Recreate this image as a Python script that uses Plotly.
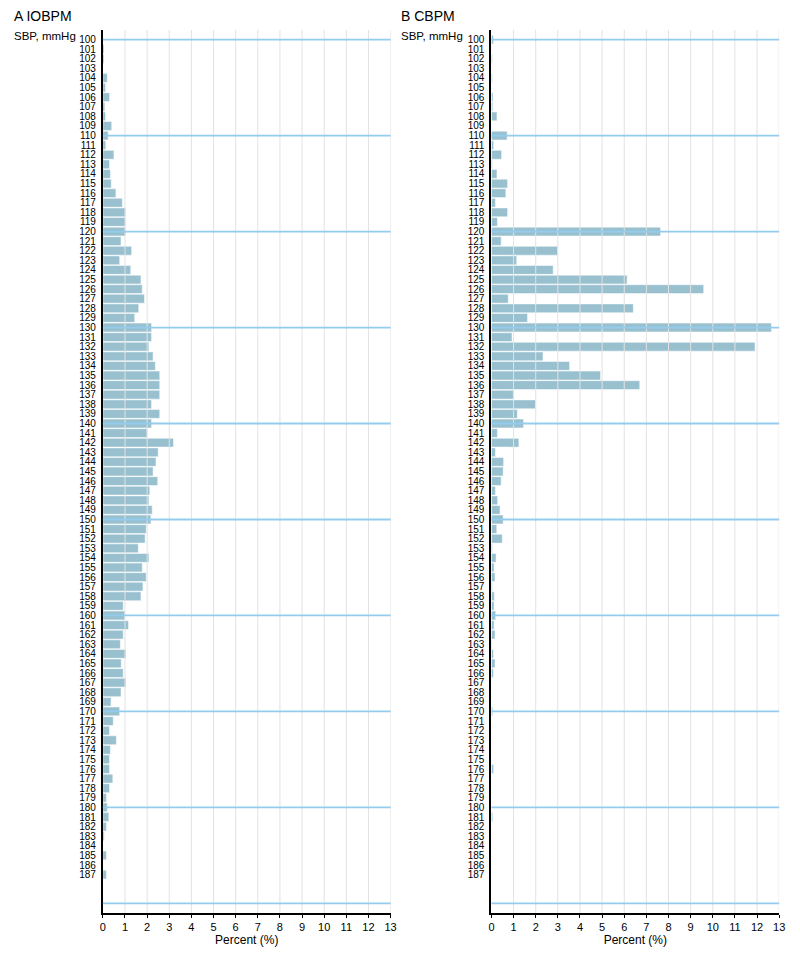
import plotly.graph_objects as go

sbp = list(range(100, 188))

iobpm = [0.0, 0.05, 0.05, 0.0, 0.2, 0.12, 0.3, 0.09, 0.12, 0.4,
         0.24, 0.13, 0.5, 0.3, 0.34, 0.38, 0.59, 0.88, 1.03, 1.03,
         1.03, 0.82, 1.3, 0.76, 1.26, 1.72, 1.78, 1.88, 1.62, 1.44,
         2.2, 2.2, 2.08, 2.27, 2.37, 2.57, 2.57, 2.57, 2.2, 2.57,
         2.2, 2.0, 3.19, 2.5, 2.4, 2.27, 2.48, 2.12, 2.08, 2.23,
         2.17, 1.96, 1.91, 1.6, 2.08, 1.78, 1.96, 1.81, 1.72, 0.92,
         0.99, 1.16, 0.92, 0.79, 1.04, 0.83, 0.92, 1.04, 0.82, 0.37,
         0.76, 0.47, 0.3, 0.61, 0.34, 0.3, 0.3, 0.45, 0.3, 0.16,
         0.2, 0.27, 0.16, 0.06, 0.0, 0.16, 0.0, 0.16]

cbpm = [0.09, 0.0, 0.04, 0.0, 0.04, 0.0, 0.07, 0.06, 0.25, 0.0,
        0.71, 0.1, 0.46, 0.04, 0.25, 0.73, 0.65, 0.18, 0.73, 0.27,
        7.64, 0.44, 2.99, 1.14, 2.79, 6.13, 9.59, 0.76, 6.41, 1.63,
        12.65, 0.93, 11.91, 2.33, 3.53, 4.93, 6.7, 0.99, 1.99, 1.17,
        1.45, 0.27, 1.24, 0.18, 0.55, 0.53, 0.44, 0.18, 0.28, 0.39,
        0.53, 0.24, 0.49, 0.04, 0.21, 0.12, 0.16, 0.04, 0.13, 0.12,
        0.19, 0.12, 0.16, 0.03, 0.09, 0.16, 0.09, 0.0, 0.0, 0.0,
        0.06, 0.0, 0.0, 0.0, 0.0, 0.0, 0.1, 0.0, 0.0, 0.0,
        0.0, 0.06, 0.0, 0.0, 0.0, 0.0, 0.0, 0.0]

x_ticks = list(range(0, 14))
guide_lines = list(range(100, 200, 10))
panel_titles = ["A IOBPM", "B CBPM"]
y_title = "SBP, mmHg"
x_title = "Percent (%)"

W, H = 800, 953
FONT = "Liberation Sans, Arial, Helvetica, sans-serif"
BAR = "#98c0cf"
GUIDE = "#94ccee"
GRID = "#e2e2e2"

fig = go.Figure()
for i, vals in enumerate([iobpm, cbpm]):
    sfx = "" if i == 0 else "2"
    fig.add_trace(go.Bar(
        x=vals, y=sbp, orientation="h", width=0.92,
        marker=dict(color=BAR, line=dict(color="rgba(255,255,255,0.5)", width=1)),
        xaxis="x" + sfx, yaxis="y" + sfx, showlegend=False, hoverinfo="x+y"))

x_domains = [[101 / W, 392 / W], [494 / W, 785 / W]]
y_dom = [1 - 913 / H, 1 - 30 / H]

ax_common = dict(range=[0, 13], tickvals=x_ticks, ticks="outside", ticklen=3,
                 tickwidth=1, tickcolor="black", showgrid=False, zeroline=False,
                 showline=True, linecolor="black", linewidth=1.5,
                 tickfont=dict(size=11, color="black", family=FONT),
                 title=dict(text=x_title, font=dict(size=12, color="black", family=FONT),
                            standoff=4))
ay_common = dict(range=[191, 99], tickvals=sbp, ticktext=[str(v) for v in sbp],
                 ticks="", showgrid=False, zeroline=False, showline=True,
                 linecolor="black", linewidth=2, ticklabelstandoff=3,
                 tickfont=dict(size=10, color="black", family=FONT))

layout = dict(
    width=W, height=H, margin=dict(l=0, r=0, t=0, b=0),
    paper_bgcolor="white", plot_bgcolor="white", bargap=0.08,
    font=dict(family=FONT, color="black"),
    xaxis=dict(domain=x_domains[0], anchor="y", **ax_common),
    yaxis=dict(domain=y_dom, anchor="x", **ay_common),
    xaxis2=dict(domain=x_domains[1], anchor="y2", **ax_common),
    yaxis2=dict(domain=y_dom, anchor="x2", **ay_common),
)
fig.update_layout(**layout)

shapes = []
annotations = []
for i in range(2):
    sfx = "" if i == 0 else "2"
    for xv in x_ticks[1:]:
        shapes.append(dict(type="line", xref="x" + sfx, yref="y" + sfx + " domain",
                           x0=xv, x1=xv, y0=0, y1=1, layer="above",
                           line=dict(color=GRID, width=1)))
    for yv in guide_lines:
        shapes.append(dict(type="line", xref="x" + sfx + " domain", yref="y" + sfx,
                           x0=0, x1=1, y0=yv, y1=yv, layer="above",
                           line=dict(color=GUIDE, width=1.8)))
    left = 9 if i == 0 else 401
    annotations.append(dict(text=panel_titles[i], xref="paper", yref="paper",
                            x=left / W, y=1 - 16 / H, xanchor="left", yanchor="middle",
                            showarrow=False, font=dict(size=14, color="black", family=FONT)))
    annotations.append(dict(text=y_title, xref="paper", yref="paper",
                            x=left / W, y=1 - 36 / H, xanchor="left", yanchor="middle",
                            showarrow=False, font=dict(size=11.5, color="black", family=FONT)))

fig.update_layout(shapes=shapes, annotations=annotations)
fig.write_html("out.html")
